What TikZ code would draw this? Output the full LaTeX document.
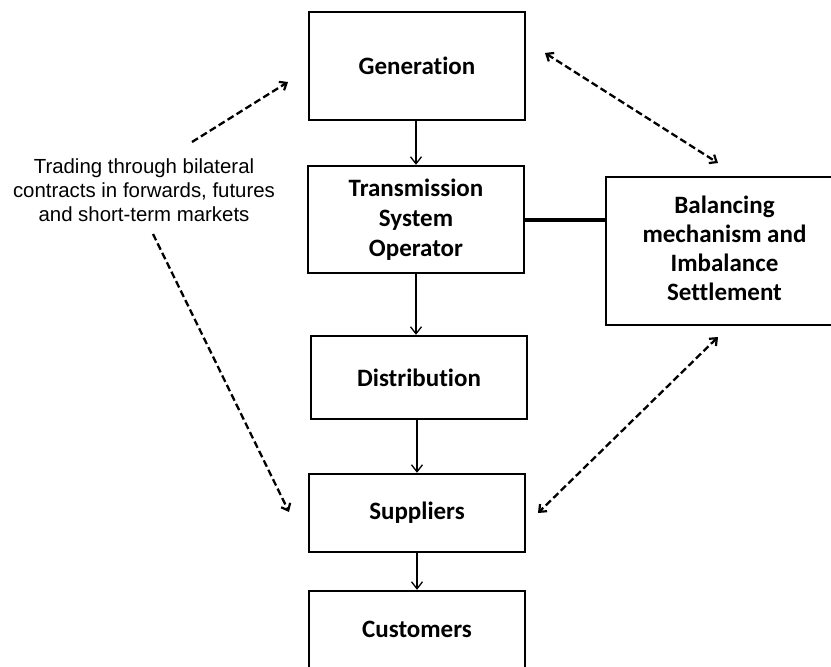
\documentclass[tikz,border=0pt]{standalone}
\usepackage{fontspec}
\setmainfont[RawFeature=-liga]{Carlito}
\newfontfamily\arialf{Liberation Sans}
\usetikzlibrary{arrows.meta,calc}
\begin{document}
\begin{tikzpicture}[x=1pt,y=-1pt,
  boxst/.style={draw,line width=2.4pt,minimum width=216pt,inner sep=0pt,align=center,
    font=\fontsize{25}{30}\selectfont\bfseries},
  flow/.style={line width=1.3pt,-{Straight Barb[length=7pt,width=11pt,line width=1.3pt]}},
  dasharrow/.style={line width=2.3pt,dash pattern=on 7pt off 3.5pt,
    {Straight Barb[length=6pt,width=10pt,line width=2.2pt]}-{Straight Barb[length=6pt,width=10pt,line width=2.2pt]}},
  dashone/.style={line width=2.3pt,dash pattern=on 7pt off 3.5pt,
    -{Straight Barb[length=6pt,width=10pt,line width=2.2pt]}}]
\useasboundingbox (0,0) rectangle (831,667);
\clip (0,0) rectangle (831,667);
\fill[white] (0,0) rectangle (831,667);

\node[boxst,minimum height=108pt] (gen) at (417,66) {Generation};
\node[boxst,minimum height=107pt] (tso) at (416,219.5) {Transmission\\System\\Operator};
\node[boxst,minimum height=83pt] (dist) at (419,377.5) {Distribution};
\node[boxst,minimum height=78pt] (sup) at (417,513) {Suppliers};
\node[boxst,minimum height=80pt] (cust) at (417,631) {\raisebox{3pt}{Customers}};
\node[boxst,minimum width=237pt,minimum height=148pt,font=\fontsize{25}{29}\selectfont\bfseries] (bal) at (724.5,251) {\raisebox{2pt}{\begin{tabular}{@{}c@{}}Balancing\\mechanism and\\Imbalance\\Settlement\end{tabular}}};

\node[font=\arialf\fontsize{20.4}{24}\selectfont,align=center] (trade) at (144,190) {Trading through bilateral\\contracts in forwards, futures\\and short-term markets};

\draw[flow] (gen.south -| tso.north) -- (tso.north);
\draw[flow] (tso.south) -- (tso.south |- dist.north);
\draw[flow] (dist.south -| sup.north) -- (sup.north);
\draw[flow] (sup.south) -- (cust.north);
\draw[line width=4pt] (tso.east) -- (bal.west |- tso.east);

\coordinate (g1) at (545,53);
\coordinate (b1) at (718,163);
\coordinate (b2) at (718,337);
\coordinate (s1) at (538,513);
\coordinate (t1) at (192,142);
\coordinate (g2) at (288,82);
\coordinate (t2) at (153,234);
\coordinate (s2) at (289,512);

\draw[dasharrow] (g1) -- (b1);
\draw[dasharrow] (b2) -- (s1);
\draw[dashone] (t1) -- (g2);
\draw[dashone] (t2) -- (s2);
\end{tikzpicture}
\end{document}
